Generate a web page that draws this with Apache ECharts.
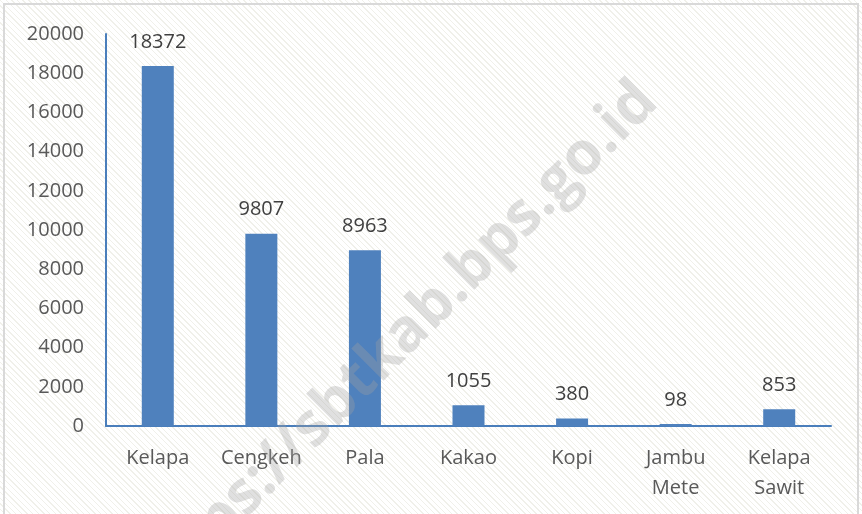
<!DOCTYPE html>
<html>
<head>
<meta charset="utf-8">
<script src="https://cdn.jsdelivr.net/npm/echarts@6/dist/echarts.min.js"></script>
<style>
  html, body { margin: 0; padding: 0; }
  body {
    width: 862px; height: 514px;
    background: repeating-linear-gradient(45deg, #ffffff 0px, #ffffff 3px, #f0f0ea 3px, #f0f0ea 4px);
  }
  #main {
    position: absolute; left: 3px; top: 3px;
    width: 852px; height: 511px;
    border: 2px solid #d9d9d9; border-bottom: none;
  }
</style>
</head>
<body>
<div id="main"></div>
<script>
// data
const categories = ['Kelapa', 'Cengkeh', 'Pala', 'Kakao', 'Kopi', 'Jambu\nMete', 'Kelapa\nSawit'];
const values = [18372, 9807, 8963, 1055, 380, 98, 853];

var myChart = echarts.init(document.getElementById('main'));

var option = {
  backgroundColor: 'transparent',
  animation: false,
  textStyle: { fontFamily: 'Open Sans' },
  grid: { left: 101, right: 26, top: 29, bottom: 90 },
  graphic: [
    {
      // watermark
      type: 'text',
      x: 390, y: 340,
      rotation: Math.PI / 4,
      style: {
        text: 'https://sbtkab.bps.go.id',
        font: 'bold 60px "Open Sans"',
        fill: 'rgba(160,160,160,0.33)',
        align: 'center',
        verticalAlign: 'middle'
      },
      silent: true,
      z: 100
    }
  ],
  xAxis: {
    type: 'category',
    data: categories,
    axisLine: { lineStyle: { color: '#4a7ebb', width: 2 } },
    axisTick: { show: false },
    axisLabel: { color: '#595959', fontSize: 20, margin: 17, lineHeight: 30, interval: 0 }
  },
  yAxis: {
    type: 'value',
    min: 0, max: 20000, interval: 2000,
    axisLine: { show: true, lineStyle: { color: '#4a7ebb', width: 2 } },
    axisTick: { show: false },
    splitLine: { show: false },
    axisLabel: { color: '#595959', fontSize: 20, margin: 22, formatter: v => String(v) }
  },
  series: [
    {
      name: 'Produksi',
      type: 'bar',
      data: values,
      barWidth: 32,
      itemStyle: { color: '#4f81bd' },
      label: {
        show: true,
        position: 'top',
        distance: 14,
        color: '#404040',
        fontSize: 20
      }
    }
  ]
};

myChart.setOption(option);
</script>
</body>
</html>
